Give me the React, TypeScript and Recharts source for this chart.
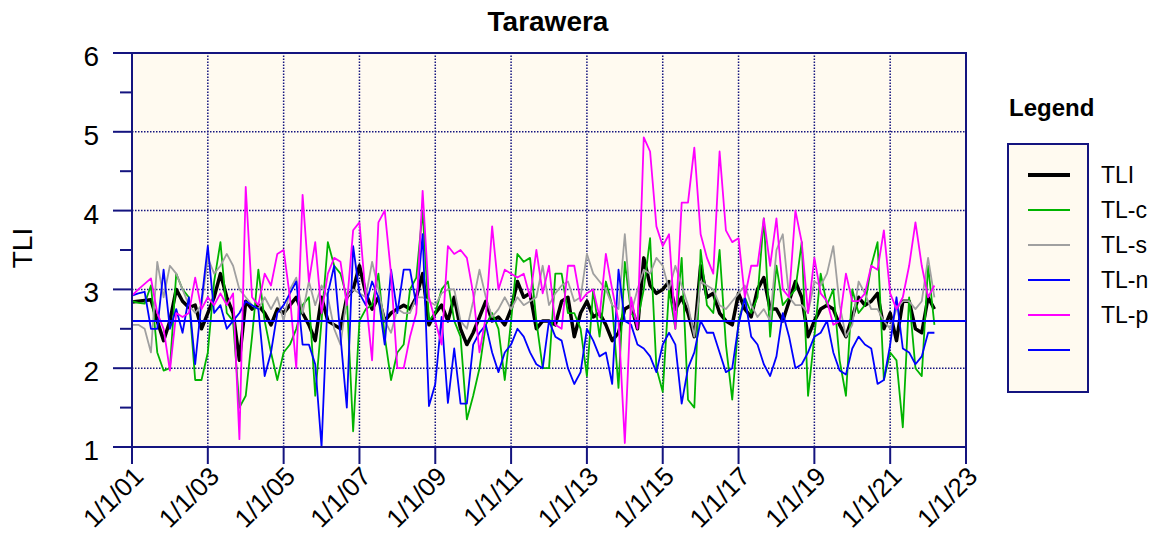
import {
  ComposedChart,
  Line,
  XAxis,
  YAxis,
  CartesianGrid,
  ReferenceLine,
  ReferenceArea,
} from "recharts"

// sampled every second month, Jan 2001 .. Mar 2022
const startYear = 2001
const stepsPerYear = 6

// prettier-ignore
const tli = [
  2.84, 2.85, 2.86, 2.87, 2.6, 2.35,
  2.6, 3.0, 2.85, 2.77, 2.8, 2.5,
  2.7, 2.9, 3.2, 2.9, 2.7, 2.1,
  2.85, 2.75, 2.8, 2.7, 2.55, 2.75,
  2.7, 2.8, 2.9, 2.7, 2.55, 2.35,
  2.9, 2.6, 2.55, 2.5, 2.9, 3.0,
  3.3, 2.95, 2.75, 2.9, 2.6, 2.7,
  2.75, 2.8, 2.75, 2.9, 3.2, 2.55,
  2.7, 2.8, 2.6, 2.9, 2.5, 2.3,
  2.45, 2.65, 2.85, 2.6, 2.65, 2.55,
  2.75, 3.1, 2.9, 2.95, 2.5, 2.6,
  2.6, 2.55, 2.85, 2.9, 2.4, 2.7,
  2.85, 2.65, 2.7, 2.55, 2.35, 2.45,
  2.75, 2.8, 2.5, 3.4, 3.05, 2.95,
  3.0, 3.1, 2.75, 2.9, 2.7, 2.4,
  3.3, 2.9, 2.95, 2.7, 2.6, 2.55,
  2.95, 2.75, 2.65, 3.0, 3.15, 2.75,
  2.75, 2.6, 2.85, 3.1, 2.9, 2.4,
  2.6, 2.75, 2.8, 2.75, 2.55, 2.4,
  2.65, 2.9, 2.8, 2.85, 2.95, 2.5,
  2.7, 2.35, 2.85, 2.85, 2.5, 2.45,
  2.9, 2.75,
]

// prettier-ignore
const tlc = [
  2.85, 2.83, 2.82, 3.05, 2.2, 1.97,
  2.0, 3.2, 3.0, 2.9, 1.85, 1.85,
  2.2, 3.1, 3.6, 2.7, 2.6, 1.5,
  1.65, 2.4, 3.25, 2.6, 2.2, 1.85,
  2.2, 2.3, 2.5, 2.8, 2.9, 1.65,
  2.6, 3.6, 3.3, 3.2, 2.9, 1.2,
  2.6, 2.75, 2.8, 3.2, 2.4, 1.85,
  2.2, 2.3, 3.0, 3.15, 4.0, 2.6,
  2.7, 3.0, 3.1, 2.6, 2.4, 1.35,
  1.65, 2.0, 2.55, 2.7, 2.5, 1.85,
  2.6, 3.45, 3.35, 3.4, 2.6, 2.0,
  2.0, 3.2, 3.2, 2.7, 2.7, 2.5,
  1.9, 3.0, 2.4, 3.1, 2.8, 1.75,
  3.35, 2.7, 2.6, 3.0, 3.65, 2.0,
  1.7, 3.0, 2.5, 3.4, 1.6, 1.5,
  3.5, 2.8, 2.7, 3.5, 2.3, 1.6,
  2.6, 2.9, 2.7, 2.9, 3.9, 2.4,
  3.3, 2.8, 2.9, 3.0, 3.6, 1.65,
  2.4, 3.2, 2.8, 3.0, 2.1, 1.65,
  3.0, 2.7, 2.8, 3.3, 3.6, 1.85,
  2.2, 2.1, 1.25, 2.9, 2.0, 1.9,
  3.3, 2.55,
]

// prettier-ignore
const tls = [
  2.55, 2.55, 2.5, 2.2, 3.35, 2.9,
  3.3, 3.2, 3.0, 2.8, 2.7, 2.8,
  3.4, 3.2, 3.3, 3.45, 3.3, 3.0,
  2.9, 2.8, 2.75, 2.9, 2.75, 2.9,
  2.6, 3.0, 3.15, 2.7, 3.1, 2.8,
  3.05, 2.9, 2.5, 2.3, 2.9, 3.0,
  2.95, 2.9, 3.35, 3.0, 2.6, 2.45,
  2.75, 2.7, 2.7, 2.9, 2.9, 2.85,
  2.8, 2.95, 3.0, 3.0, 2.6, 2.5,
  2.85, 3.25, 2.9, 2.65, 2.75, 2.9,
  2.75, 2.9, 2.8, 2.85, 2.9, 3.3,
  2.8, 2.95, 3.05, 3.1, 2.85, 2.9,
  3.45, 3.2, 3.1, 3.0, 2.8, 2.75,
  3.7, 2.7, 3.0, 3.25, 3.2, 3.4,
  3.3, 3.0, 3.3, 3.05, 2.8, 2.4,
  3.1, 3.05, 3.0, 2.8, 2.75, 2.85,
  2.95, 3.05, 2.8, 2.65, 2.75, 2.6,
  3.5, 3.7, 2.9, 2.8, 2.8, 2.7,
  3.1, 3.05, 3.2, 3.55, 2.8, 2.4,
  2.55, 3.1, 2.95, 2.75, 2.75, 2.6,
  2.5, 2.75, 2.85, 2.85, 2.75, 2.85,
  3.4, 2.9,
]

// prettier-ignore
const tln = [
  2.92, 2.95, 2.97, 2.5, 2.5, 3.25,
  2.5, 2.75, 2.45, 2.9, 2.05, 2.85,
  3.55, 2.7, 2.8, 2.5, 2.6, 2.7,
  2.85, 2.8, 2.75, 1.9, 2.2, 2.7,
  2.8, 2.95, 3.1, 2.3, 2.3, 2.05,
  1.0, 2.95, 3.3, 2.4, 1.5, 3.55,
  2.95, 2.8, 3.1, 2.9, 2.3, 3.25,
  2.7, 3.25, 3.25, 2.8, 3.7, 1.52,
  1.8, 2.65, 1.56, 2.25, 1.55, 1.55,
  2.3, 2.45, 2.55, 2.2, 1.95, 2.2,
  2.3, 2.5, 2.4, 2.2, 2.05, 2.0,
  2.6, 2.4, 2.35, 2.0, 1.8, 1.95,
  2.5, 2.35, 2.15, 2.2, 1.8, 3.25,
  2.6, 2.55, 2.3, 2.25, 2.15, 1.95,
  2.3, 2.45, 2.3, 1.55, 2.0, 2.2,
  2.6, 2.45, 2.45, 2.2, 1.95, 2.0,
  2.55, 2.9, 2.4, 2.3, 2.05, 1.9,
  2.15, 2.7, 2.4, 2.0, 2.05, 2.2,
  2.4, 2.45, 2.6, 2.2, 1.97, 1.92,
  2.25, 2.4, 2.3, 2.25, 1.8, 1.85,
  2.3, 2.9, 2.25, 2.2, 2.05, 2.15,
  2.45, 2.45,
]

// prettier-ignore
const tlp = [
  2.92, 3.0, 3.07, 3.14, 2.7, 2.5,
  1.97, 2.7, 2.65, 2.7, 3.15, 2.75,
  2.9, 2.8, 2.95, 2.8, 2.95, 1.1,
  4.3, 2.9, 2.8, 3.2, 3.05, 3.45,
  3.5, 2.9, 2.0, 4.2, 3.1, 3.6,
  2.7, 3.2, 3.4, 3.35, 2.8, 3.75,
  3.85, 2.9, 2.1, 3.85, 4.0, 3.2,
  2.0, 2.0, 2.4, 2.7, 4.25, 2.9,
  2.6, 2.3, 3.55, 3.45, 3.5, 3.4,
  2.95, 2.2, 2.65, 3.8, 3.0, 3.25,
  3.2, 3.15, 3.2, 2.9, 3.5, 2.95,
  3.3, 2.55, 2.5, 3.3, 3.3, 2.85,
  2.95, 3.0, 2.65, 3.45, 3.0, 2.6,
  1.05, 2.9, 2.5, 4.93, 4.75, 3.8,
  3.55, 3.7, 2.5, 4.1, 4.1, 4.8,
  3.7, 3.4, 3.2, 4.75, 3.75, 3.6,
  3.65, 2.9, 3.3, 3.3, 3.9, 3.3,
  3.9, 3.0, 2.9, 4.0, 3.6, 2.7,
  3.4, 2.95, 2.85, 2.55, 2.6, 3.2,
  2.85, 2.85, 2.95, 3.3, 3.25, 3.75,
  2.95, 2.75, 2.9, 3.3, 3.85, 3.3,
  2.9, 3.05,
]

const tliTarget = 2.6

const xTicks = [2001, 2003, 2005, 2007, 2009, 2011, 2013, 2015, 2017, 2019, 2021, 2023]
const xTickLabels = ["1/1/01", "1/1/03", "1/1/05", "1/1/07", "1/1/09", "1/1/11", "1/1/13", "1/1/15", "1/1/17", "1/1/19", "1/1/21", "1/1/23"]
const yTicks = [1, 1.5, 2, 2.5, 3, 3.5, 4, 4.5, 5, 5.5, 6]
const gridX = [2003, 2005, 2007, 2009, 2011, 2013, 2015, 2017, 2019, 2021]
const gridY = [2, 3, 4, 5]

const NAVY = "#14147f"
const CREAM = "#fffaf0"
const FONT = "Arial, 'Liberation Sans', sans-serif"

const series = [
  { key: "tli", name: "TLI", color: "#000000", width: 3.5, values: tli },
  { key: "tlc", name: "TL-c", color: "#00b400", width: 1.8, values: tlc },
  { key: "tls", name: "TL-s", color: "#a0a0a0", width: 1.8, values: tls },
  { key: "tln", name: "TL-n", color: "#0000ff", width: 1.8, values: tln },
  { key: "tlp", name: "TL-p", color: "#ff00ff", width: 1.8, values: tlp },
]

const data = tli.map((_, i) => {
  const row: Record<string, number> = { t: startYear + i / stepsPerYear }
  series.forEach((s) => {
    row[s.key] = s.values[i]
  })
  return row
})

function XTick({ x, y, payload }: any) {
  const label = xTickLabels[xTicks.indexOf(payload.value)]
  const tx = x + 13
  const ty = y + 31
  return (
    <g>
      <line x1={x} x2={x} y1={y} y2={y + 17} stroke={NAVY} strokeWidth={2} />
      <text
        x={tx}
        y={ty}
        transform={`rotate(-45 ${tx} ${ty})`}
        textAnchor="end"
        fontSize={26}
        fontFamily={FONT}
        fill="#000"
      >
        {label}
      </text>
    </g>
  )
}

function YTick({ x, y, payload }: any) {
  const major = Number.isInteger(payload.value)
  return (
    <g>
      <line x1={x - (major ? 19 : 12)} x2={x} y1={y} y2={y} stroke={NAVY} strokeWidth={2} />
      {major && (
        <text x={x - 33} y={y + 13} textAnchor="end" fontSize={28} fontFamily={FONT} fill="#000">
          {payload.value}
        </text>
      )}
    </g>
  )
}

function Overlay() {
  const legendItems = [...series.map((s) => ({ name: s.name, color: s.color, width: s.key === "tli" ? 4 : 2 })), { name: "", color: "#0000ff", width: 2 }]
  return (
    <svg width={1158} height={537} style={{ position: "absolute", left: 0, top: 0, pointerEvents: "none" }}>
      <text x={548} y={31} textAnchor="middle" fontSize={28} fontWeight="bold" fontFamily={FONT}>
        Tarawera
      </text>
      <text x={32} y={248} transform="rotate(-90 32 248)" textAnchor="middle" fontSize={28} fontFamily={FONT}>
        TLI
      </text>
      <text x={1009} y={116} fontSize={24} fontWeight="bold" fontFamily={FONT}>
        Legend
      </text>
      <rect x={1008} y={144} width={80} height={248} fill={CREAM} stroke={NAVY} strokeWidth={2} />
      {legendItems.map((it, i) => {
        const cy = 175 + i * 35
        return (
          <g key={i}>
            <line x1={1028} x2={1070} y1={cy} y2={cy} stroke={it.color} strokeWidth={it.width} />
            <text x={1101} y={cy + 8} fontSize={23} fontFamily={FONT}>
              {it.name}
            </text>
          </g>
        )
      })}
    </svg>
  )
}

export default function App() {
  return (
    <div style={{ position: "absolute", left: 0, top: 0, width: 1158, height: 537, background: "#fff" }}>
      <ComposedChart
        width={1158}
        height={537}
        data={data}
        margin={{ top: 53, right: 192, bottom: 0, left: 0 }}
      >
        <CartesianGrid horizontal={false} vertical={false} fill={CREAM} />
        {gridY.map((v) => (
          <ReferenceLine key={`gy${v}`} y={v} stroke={NAVY} strokeWidth={1.5} strokeDasharray="1.5 1.5" />
        ))}
        {gridX.map((v) => (
          <ReferenceLine key={`gx${v}`} x={v} stroke={NAVY} strokeWidth={1.5} strokeDasharray="1.5 1.5" />
        ))}
        <XAxis
          dataKey="t"
          type="number"
          domain={[2001, 2023]}
          ticks={xTicks}
          interval={0}
          height={90}
          tickSize={0}
          tickMargin={0}
          axisLine={{ stroke: NAVY, strokeWidth: 2 }}
          tickLine={false}
          tick={<XTick />}
        />
        <YAxis
          type="number"
          domain={[1, 6]}
          ticks={yTicks}
          interval={0}
          width={132}
          tickSize={0}
          tickMargin={0}
          axisLine={{ stroke: NAVY, strokeWidth: 2 }}
          tickLine={false}
          tick={<YTick />}
        />
        {series.map((s) => (
          <Line
            key={s.key}
            dataKey={s.key}
            name={s.name}
            stroke={s.color}
            strokeWidth={s.width}
            dot={false}
            activeDot={false}
            isAnimationActive={false}
            strokeLinejoin="round"
          />
        ))}
        <ReferenceLine y={tliTarget} stroke="#0000ff" strokeWidth={2} />
        <ReferenceArea x1={2001} x2={2023} y1={1} y2={6} fill="none" fillOpacity={0} stroke={NAVY} strokeWidth={2} />
      </ComposedChart>
      <Overlay />
    </div>
  )
}
